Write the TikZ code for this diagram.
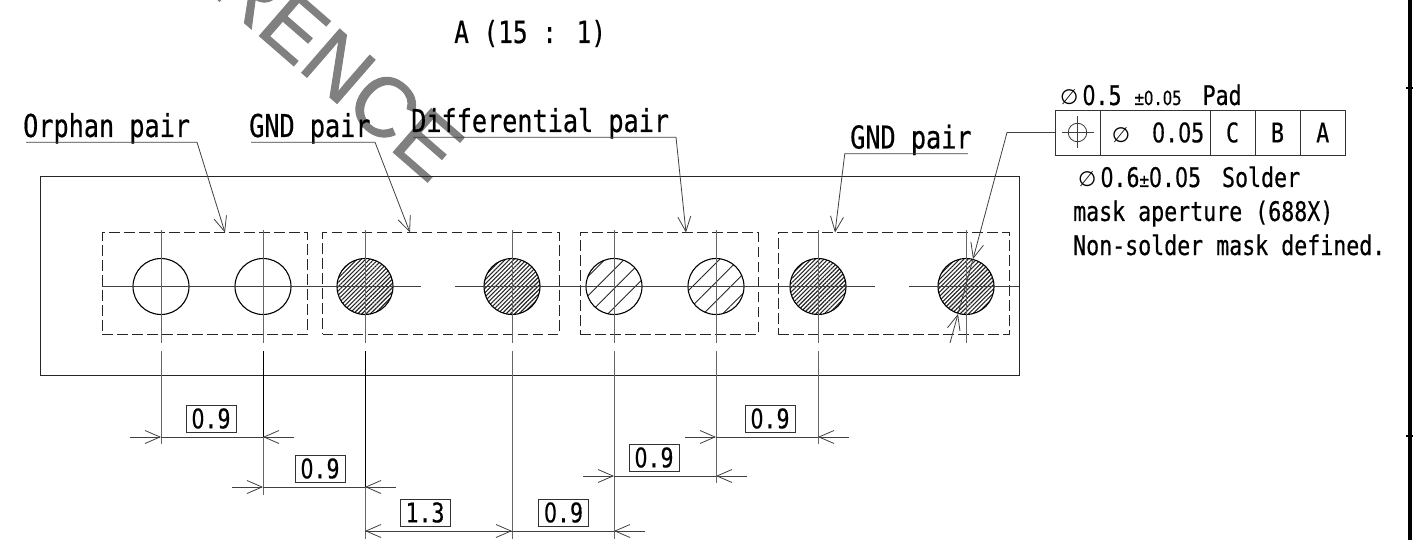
\documentclass[tikz,border=0pt]{standalone}
\usepackage{fontspec}
\setmainfont[FakeStretch=0.8, FakeBold=0.5]{DejaVu Sans Mono}
\newfontfamily\symfont{DejaVu Sans}
\newfontfamily\zerofont[FakeStretch=0.76, FakeBold=0.5]{DejaVu Sans}
\newfontfamily\markfont[FakeBold=1.2]{Liberation Sans}
\usetikzlibrary{positioning, arrows.meta, patterns.meta}
\newcommand\labelfs{\fontsize{31.5}{36}\selectfont}
\newcommand\bodyfs{\fontsize{27}{32}\selectfont}
\newcommand\tolfs{\fontsize{19.5}{24}\selectfont}
\newcommand\dia{{\symfont\fontsize{21}{24}\selectfont ∅}}
\newcommand\zr{{\zerofont 0}}

\begin{document}
\begin{tikzpicture}[
    x=1pt, y=-1pt,
    thinline/.style={line width=0.8pt, draw=black!75},
    arrow/.style={thinline, -{Straight Barb[length=15pt, width=13pt, line width=0.8pt]}},
    extline/.style={thinline, draw=black!60},
    extdark/.style={line width=1pt, draw=black},
    pad/.style={circle, draw=black, line width=1.1pt, minimum size=56, inner sep=0pt, outer sep=0pt},
    padgnd/.style={pad, pattern={Lines[angle=45, distance=3pt, line width=1.1pt]}, pattern color=black!85},
    padsig/.style={pad, pattern={Lines[angle=45, distance=13.5pt, line width=0.9pt]}, pattern color=black!85},
    pairbox/.style={rectangle, draw=black!85, line width=0.8pt, dash pattern=on 10.5pt off 4.5pt, minimum height=101.5, inner sep=0pt},
    toplabel/.style={anchor=base west, inner sep=0pt, text depth=5pt, font=\labelfs},
    notetext/.style={anchor=base west, inner sep=0pt, font=\bodyfs},
    dimbox/.style={rectangle, draw=black!80, line width=0.8pt, minimum width=50, minimum height=27, inner sep=0pt, font=\bodyfs},
    fcfcell/.style={rectangle, draw=black!80, line width=0.8pt, minimum height=45, inner sep=0pt, outer sep=0pt, font=\bodyfs},
]
\clip (0,0) rectangle (1413,540);

% Watermark
\node[anchor=base west, inner sep=0pt, rotate=-41, text=black!50, font=\markfont\fontsize{84}{90}\selectfont] (stamp) at (208.3,-8.5) {RENCE};

% Board and pair groups
\node[rectangle, draw=black!85, line width=0.9pt, minimum width=979, minimum height=199.5] (board) at (529.5,276) {};
\node[pairbox, minimum width=205.5] (orphanBox) at (204.8,283.4) {};
\node[pairbox, minimum width=236.5] (gndBoxL) at (441,283.4) {};
\node[pairbox, minimum width=178] (diffBox) at (669,283.4) {};
\node[pairbox, minimum width=231.5] (gndBoxR) at (893.8,283.4) {};

% Pads
\node[pad] (p1) at (161,286.5) {};
\node[pad, right=46pt of p1] (p2) {};
\node[padgnd, right=46pt of p2] (p3) {};
\node[padgnd, right=91pt of p3] (p4) {};
\node[padsig, right=46pt of p4] (p5) {};
\node[padsig, right=46pt of p5] (p6) {};
\node[padgnd, right=46pt of p6] (p7) {};
\node[padgnd, right=92pt of p7] (p8) {};

\coordinate (upper) at (0,230);
\coordinate (lower) at (0,343);
\coordinate (extTop) at (0,351);
\coordinate (dimA) at (0,437);
\coordinate (endA) at (0,444);
\coordinate (dimB) at (0,487);
\coordinate (endB) at (0,495);
\coordinate (dimC) at (0,531);
\coordinate (endC) at (0,539);
\coordinate (dimD) at (0,476);
\coordinate (endD) at (0,483);

% Centre lines
\draw[thinline] (p1) ++(-59,0) -- ++(116,0);
\draw[thinline] (p2) ++(-56,0) -- ++(113,0);
\draw[thinline] (p3) ++(-56,0) -- ++(112,0);
\draw[thinline] (p4) ++(-57,0) -- ++(114,0);
\draw[thinline] (p5) ++(-57,0) -- ++(114,0);
\draw[thinline] (p6) ++(-57,0) -- ++(114,0);
\draw[thinline] (p7) ++(-56,0) -- ++(113,0);
\draw[thinline] (p8) ++(-57,0) -- ++(110,0);
\draw[extline] (p1 |- upper) -- (p1 |- lower);
\draw[extline] (p2 |- upper) -- (p2 |- lower);
\draw[extline] (p3 |- upper) -- (p3 |- lower);
\draw[extline] (p4 |- upper) -- (p4 |- lower);
\draw[extline] (p5 |- upper) -- (p5 |- lower);
\draw[extline] (p6 |- upper) -- (p6 |- lower);
\draw[extline] (p7 |- upper) -- (p7 |- lower);
\draw[extline] (p8 |- upper) -- (p8 |- lower);

% Extension lines
\draw[extline] (p1 |- extTop) -- (p1 |- endA);
\draw[extdark] (p2 |- extTop) -- (p2 |- dimA);
\draw[extline] (p2 |- dimA) -- (p2 |- endB);
\draw[extdark] (p3 |- extTop) -- (p3 |- dimB);
\draw[extline] (p3 |- dimB) -- (p3 |- endC);
\draw[extline] (p4 |- extTop) -- (p4 |- endC);
\draw[extline] (p5 |- extTop) -- (p5 |- endC);
\draw[extline] (p6 |- extTop) -- (p6 |- endD);
\draw[extline] (p7 |- extTop) -- (p7 |- endA);

% Dimensions
\draw[arrow] (p1 |- dimA) ++(-31,0) -- (p1 |- dimA);
\draw[thinline] (p1 |- dimA) -- (p2 |- dimA);
\draw[arrow] (p2 |- dimA) ++(31,0) -- (p2 |- dimA);
\node[dimbox] (dimOne) at (211,418.5) {\zr.9};

\draw[arrow] (p2 |- dimB) ++(-31,0) -- (p2 |- dimB);
\draw[thinline] (p2 |- dimB) -- (p3 |- dimB);
\draw[arrow] (p3 |- dimB) ++(31,0) -- (p3 |- dimB);
\node[dimbox] (dimTwo) at (320,468.5) {\zr.9};

\draw[arrow] (p4 |- dimC) -- (p3 |- dimC);
\draw[arrow] (p3 |- dimC) -- (p4 |- dimC);
\node[dimbox] (dimThree) at (425,512.5) {1.3};

\draw[thinline] (p4 |- dimC) -- (p5 |- dimC);
\draw[arrow] (p5 |- dimC) ++(31,0) -- (p5 |- dimC);
\node[dimbox] (dimFour) at (563.5,512.5) {\zr.9};

\draw[arrow] (p5 |- dimD) ++(-31,0) -- (p5 |- dimD);
\draw[thinline] (p5 |- dimD) -- (p6 |- dimD);
\draw[arrow] (p6 |- dimD) ++(31,0) -- (p6 |- dimD);
\node[dimbox] (dimFive) at (654,457.5) {\zr.9};

\draw[arrow] (p6 |- dimA) ++(-31,0) -- (p6 |- dimA);
\draw[thinline] (p6 |- dimA) -- (p7 |- dimA);
\draw[arrow] (p7 |- dimA) ++(31,0) -- (p7 |- dimA);
\node[dimbox] (dimSix) at (770,418.5) {\zr.9};

% Labels
\node[anchor=base west, inner sep=0pt, font=\fontsize{30.5}{36}\selectfont] (viewTitle) at (454,43) {A (15 : 1)};
\node[toplabel] (orphanLabel) at (23,137) {Orphan pair};
\node[toplabel] (gndLabelL) at (249,137) {GND pair};
\node[toplabel] (diffLabel) at (411,132) {Differential pair};
\node[toplabel] (gndLabelR) at (850,148.5) {GND pair};

% Leaders
\coordinate (orphanTip) at (225,232.5);
\coordinate (gndTipL) at (410,232.5);
\coordinate (diffTip) at (686,232.5);
\coordinate (gndTipR) at (835,232.5);
\draw[arrow] ([xshift=3pt]orphanLabel.south west) -- ++(171,0) -- (orphanTip);
\draw[arrow] ([xshift=2pt]gndLabelL.south west) -- ++(124,0) -- (gndTipL);
\draw[arrow] ([xshift=2pt]diffLabel.south west) -- ++(263,0) -- (diffTip);
\draw[arrow] ([xshift=-4pt]gndLabelR.south east) -- ++(-123,0) -- (gndTipR);

% Position tolerance frame
\node[fcfcell, minimum width=45] (fcfSym) at (1077.5,132.5) {};
\node[fcfcell, minimum width=110, right=0pt of fcfSym] (fcfTol) {\hspace{6pt}\dia\hspace{22pt}\zr.\zr5};
\node[fcfcell, minimum width=45, right=0pt of fcfTol] (fcfC) {C};
\node[fcfcell, minimum width=45, right=0pt of fcfC] (fcfB) {B};
\node[fcfcell, minimum width=45.5, right=0pt of fcfB] (fcfA) {A};
\node[circle, draw=black!80, line width=0.8pt, minimum size=18.5, inner sep=0pt] (fcfMark) at (fcfSym) {};
\draw[thinline] (fcfMark) ++(-16,0) -- ++(32,0);
\draw[thinline] (fcfMark) ++(0,-16) -- ++(0,32);

\coordinate (padTop) at (973,259);
\coordinate (padLow) at (958,314);
\coordinate (padTail) at (950,343);
\draw[arrow] (fcfSym.west) -- (1007,132.5) -- (padTop);
\draw[thinline] (padTop) -- (padLow);
\draw[arrow] (padTail) -- (padLow);

% Notes
\node[notetext] (padNote) at (1060,105) {\dia\hspace{4pt}\zr.5\hspace{13pt}{\tolfs ±\zr.\zr5}\hspace{21pt}Pad};
\node[notetext] (maskOne) at (1078,187) {\dia\hspace{4pt}\zr.6{\tolfs ±}\zr.\zr5\hspace{21pt}Solder};
\node[notetext] (maskTwo) at (1073,221) {mask aperture (688X)};
\node[notetext] (maskThree) at (1073,255) {Non-solder mask defined.};

% Sheet border
\draw[line width=4pt] (1410,0) -- (1410,540);
\draw[line width=1.5pt] (1406,88) -- (1413,88);
\draw[line width=1.5pt] (1406,436) -- (1413,436);
\end{tikzpicture}
\end{document}
